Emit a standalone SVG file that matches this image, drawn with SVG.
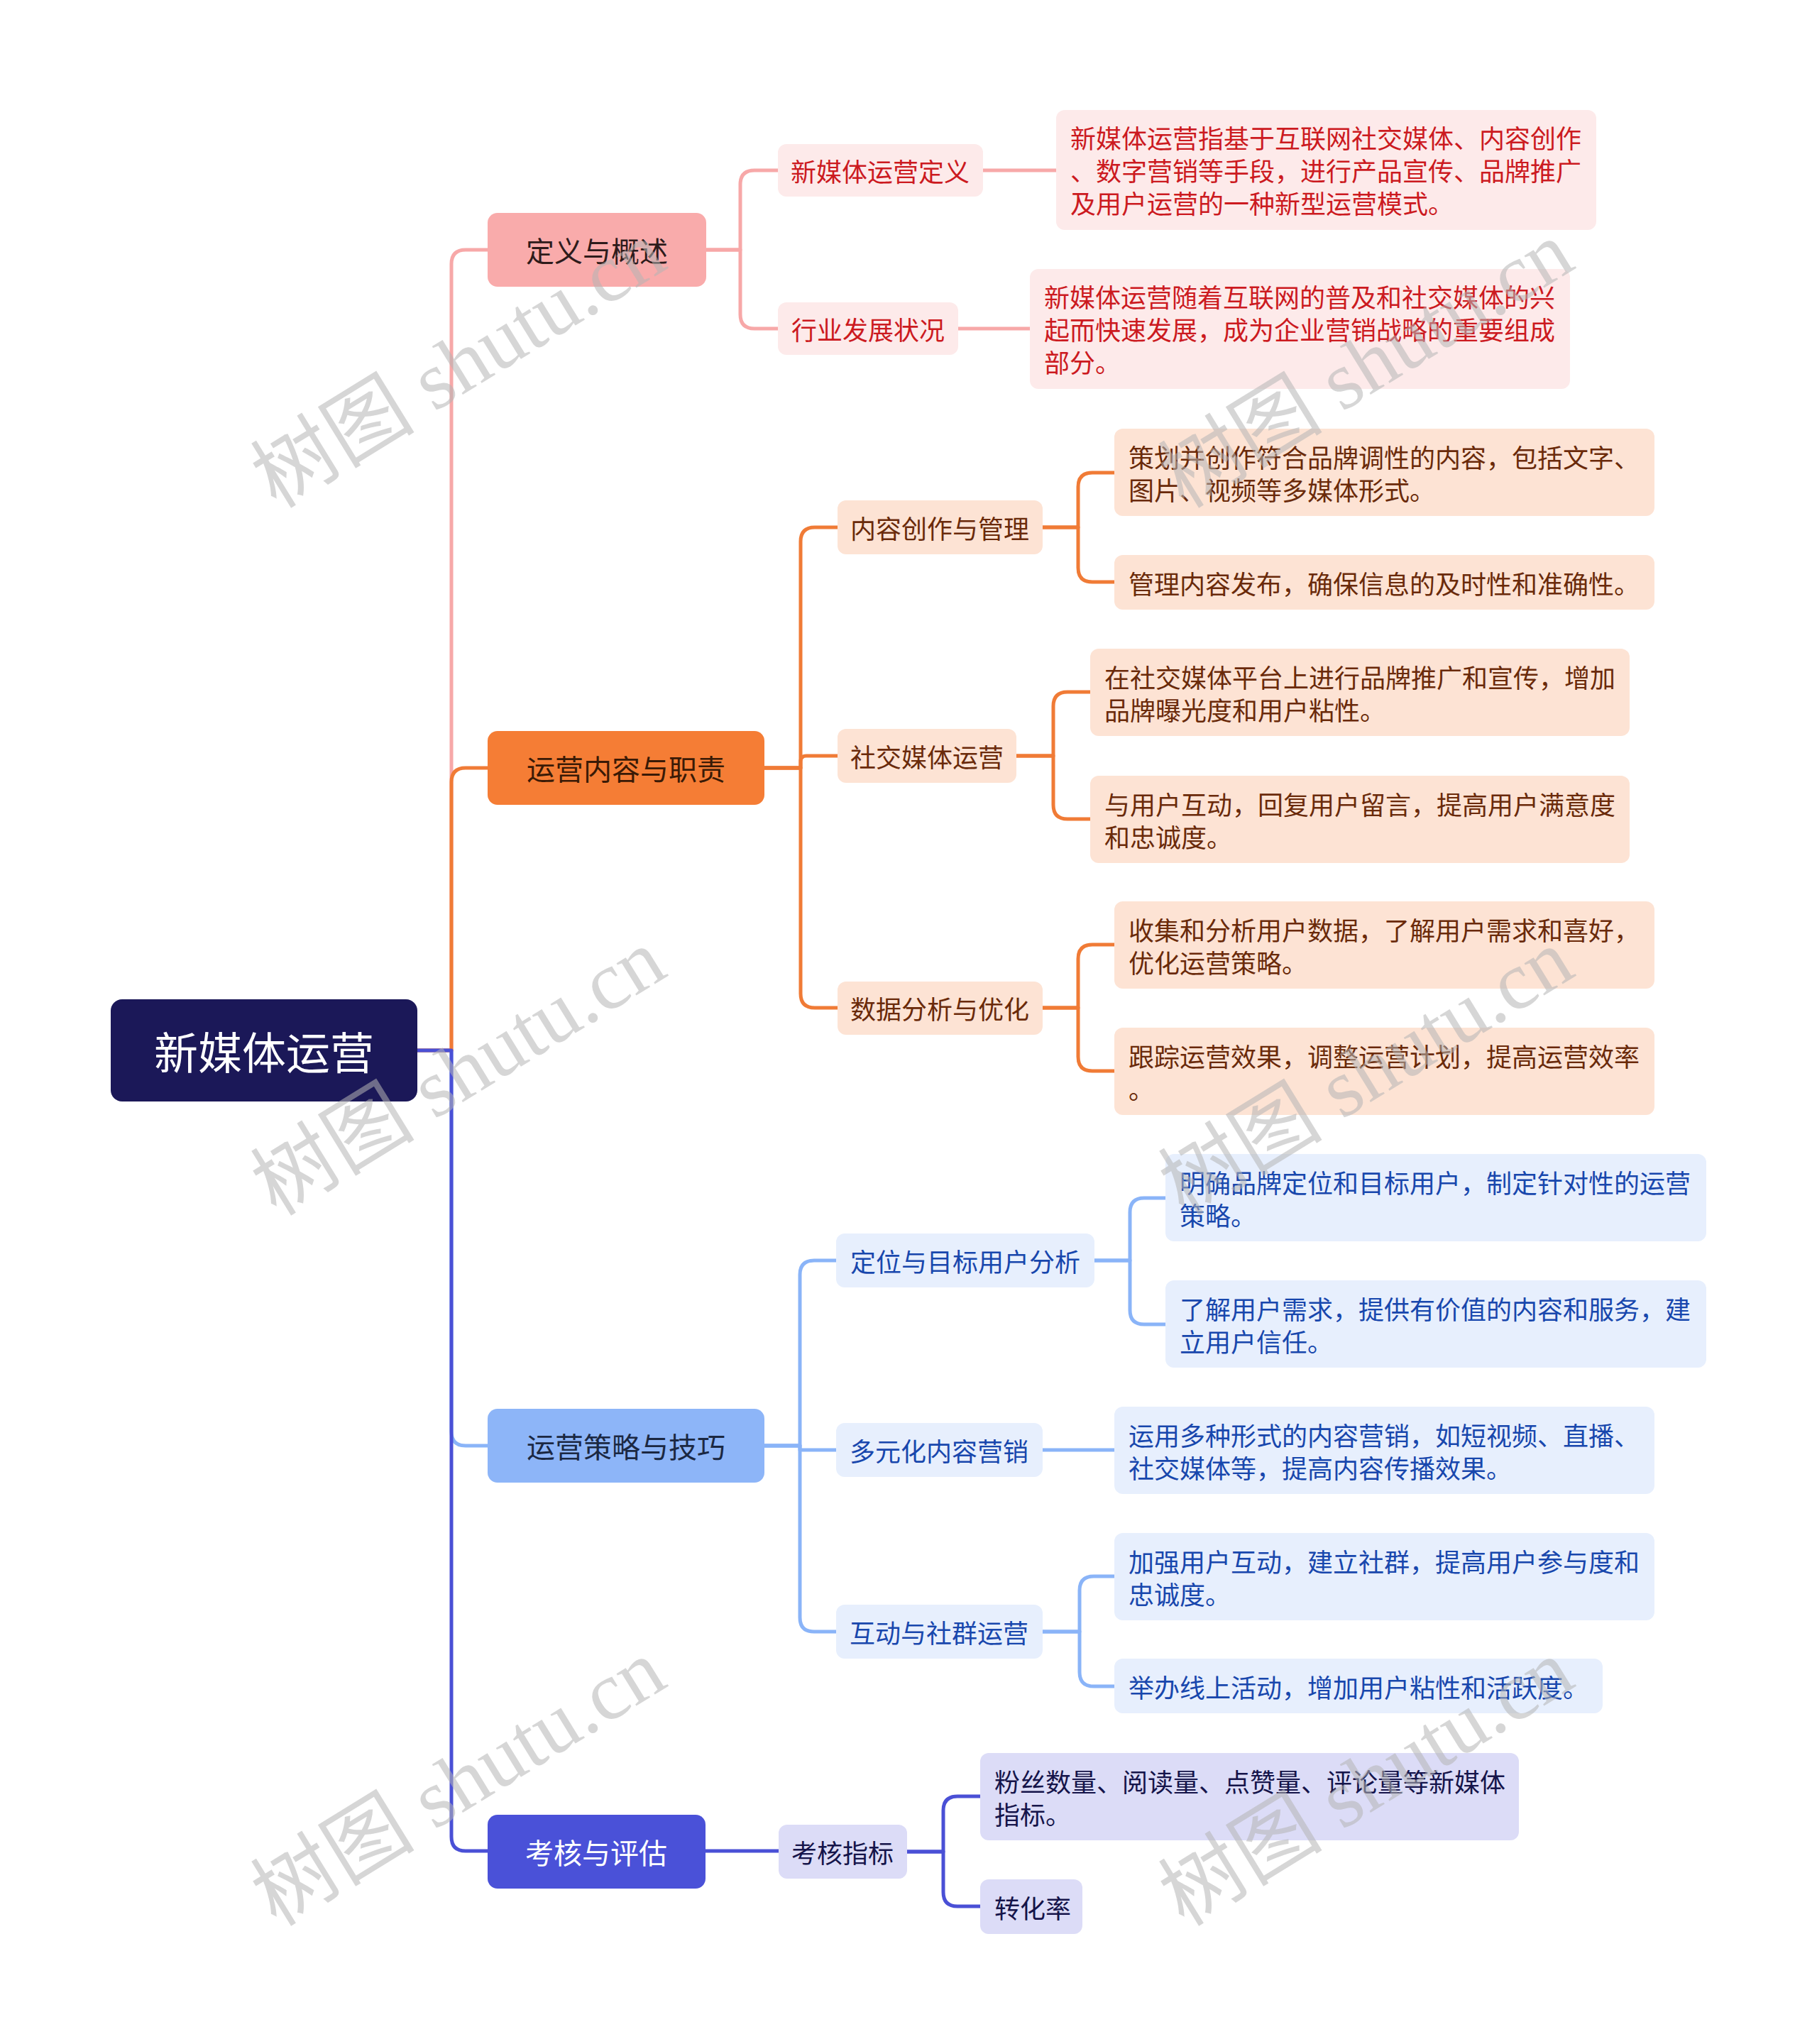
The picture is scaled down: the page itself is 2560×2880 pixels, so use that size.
<svg xmlns="http://www.w3.org/2000/svg" width="2560" height="2880" viewBox="0 0 2560 2880">
<style>
text{font-family:"Noto Sans CJK SC","Noto Sans",sans-serif;}
.c{fill:none;stroke-width:5;stroke-linejoin:round}
.pk{stroke:#f7a8a8}.or{stroke:#f07b36}.lb{stroke:#8ab4f8}.vi{stroke:#4a50d6}
.t1{font-size:40px;text-anchor:middle;dominant-baseline:central}
.t2{font-size:36px;text-anchor:middle;dominant-baseline:central}
.t3{font-size:36px;dominant-baseline:central}
.red{fill:#cc1a1f}.brn{fill:#6a2a0a}.blu{fill:#1847ad}.nav{fill:#15144a}
.wm{font-family:"Liberation Serif","Noto Sans CJK SC",serif;font-size:116px;fill:#b4b4b4;fill-opacity:0.55;text-anchor:middle;dominant-baseline:central}
</style>
<rect width="2560" height="2880" fill="#ffffff"/>
<g id="connectors">
<path class="c pk" d="M588,1480 H636 V372 Q636,352 656,352 H687"/>
<path class="c lb" d="M588,1480 H636 V2017 Q636,2037 656,2037 H687"/>
<path class="c or" d="M588,1480 H636 V1102 Q636,1082 656,1082 H687"/>
<path class="c vi" d="M588,1480 H636 V2588 Q636,2608 656,2608 H687"/>
<path class="c pk" d="M995,352 H1043 V260 Q1043,240 1063,240 H1096"/>
<path class="c pk" d="M995,352 H1043 V443 Q1043,463 1063,463 H1096"/>
<path class="c pk" d="M1385,240 H1488"/>
<path class="c pk" d="M1350,463 H1451"/>
<path class="c or" d="M1077,1082 H1128 V763 Q1128,743 1148,743 H1180"/>
<path class="c or" d="M1077,1082 H1128 V1073 Q1128,1065 1136,1065 H1180"/>
<path class="c or" d="M1077,1082 H1128 V1400 Q1128,1420 1148,1420 H1180"/>
<path class="c or" d="M1469,743 H1519 V686 Q1519,666 1539,666 H1570"/>
<path class="c or" d="M1469,743 H1519 V800 Q1519,820 1539,820 H1570"/>
<path class="c or" d="M1432,1065 H1484 V995 Q1484,975 1504,975 H1536"/>
<path class="c or" d="M1432,1065 H1484 V1134 Q1484,1154 1504,1154 H1536"/>
<path class="c or" d="M1469,1420 H1519 V1351 Q1519,1331 1539,1331 H1570"/>
<path class="c or" d="M1469,1420 H1519 V1489 Q1519,1509 1539,1509 H1570"/>
<path class="c lb" d="M1077,2037 H1127 V1796 Q1127,1776 1147,1776 H1178"/>
<path class="c lb" d="M1077,2037 H1127 V2043 H1178"/>
<path class="c lb" d="M1077,2037 H1127 V2279 Q1127,2299 1147,2299 H1178"/>
<path class="c lb" d="M1542,1776 H1592 V1708 Q1592,1688 1612,1688 H1642"/>
<path class="c lb" d="M1542,1776 H1592 V1846 Q1592,1866 1612,1866 H1642"/>
<path class="c lb" d="M1469,2043 H1570"/>
<path class="c lb" d="M1469,2299 H1521 V2241 Q1521,2221 1541,2221 H1570"/>
<path class="c lb" d="M1469,2299 H1521 V2356 Q1521,2376 1541,2376 H1570"/>
<path class="c vi" d="M994,2608 H1097"/>
<path class="c vi" d="M1278,2609 H1329 V2551 Q1329,2531 1349,2531 H1381"/>
<path class="c vi" d="M1278,2609 H1329 V2666 Q1329,2686 1349,2686 H1381"/>
</g>
<g id="root"><rect x="156" y="1408" width="432" height="144" rx="16" fill="#1b1858"/><text x="372" y="1480" style="font-size:62px;text-anchor:middle;dominant-baseline:central" fill="#ffffff">新媒体运营</text></g>
<g id="n-def"><rect x="687" y="300" width="308" height="104" rx="14" fill="#f9abab"/><text class="t1" x="841" y="352" fill="#2e1b1b">定义与概述</text></g>
<g id="n-def1"><rect x="1096" y="203" width="289" height="74" rx="12" fill="#fdeaea"/><text class="t2 red" x="1240" y="240">新媒体运营定义</text></g>
<g id="n-def2"><rect x="1096" y="426" width="254" height="74" rx="12" fill="#fdeaea"/><text class="t2 red" x="1223" y="463">行业发展状况</text></g>
<g id="n-def1a"><rect x="1488" y="155" width="761" height="169" rx="12" fill="#fdeaea"/><text class="t3 red" x="1508" y="193">新媒体运营指基于互联网社交媒体、内容创作</text><text class="t3 red" x="1508" y="239">、数字营销等手段，进行产品宣传、品牌推广</text><text class="t3 red" x="1508" y="285">及用户运营的一种新型运营模式。</text></g>
<g id="n-def2a"><rect x="1451" y="379" width="761" height="169" rx="12" fill="#fdeaea"/><text class="t3 red" x="1471" y="417">新媒体运营随着互联网的普及和社交媒体的兴</text><text class="t3 red" x="1471" y="463">起而快速发展，成为企业营销战略的重要组成</text><text class="t3 red" x="1471" y="509">部分。</text></g>
<g id="n-ops"><rect x="687" y="1030" width="390" height="104" rx="14" fill="#f57d35"/><text class="t1" x="882" y="1082" fill="#3a1a06">运营内容与职责</text></g>
<g id="n-ops1"><rect x="1180" y="705" width="289" height="76" rx="12" fill="#fde3d4"/><text class="t2 brn" x="1324" y="743">内容创作与管理</text></g>
<g id="n-ops2"><rect x="1180" y="1027" width="252" height="76" rx="12" fill="#fde3d4"/><text class="t2 brn" x="1306" y="1065">社交媒体运营</text></g>
<g id="n-ops3"><rect x="1180" y="1383" width="289" height="75" rx="12" fill="#fde3d4"/><text class="t2 brn" x="1324" y="1420">数据分析与优化</text></g>
<g id="n-ops1a"><rect x="1570" y="604" width="761" height="123" rx="12" fill="#fde3d4"/><text class="t3 brn" x="1590" y="643">策划并创作符合品牌调性的内容，包括文字、</text><text class="t3 brn" x="1590" y="689">图片、视频等多媒体形式。</text></g>
<g id="n-ops1b"><rect x="1570" y="782" width="761" height="77" rx="12" fill="#fde3d4"/><text class="t3 brn" x="1590" y="821">管理内容发布，确保信息的及时性和准确性。</text></g>
<g id="n-ops2a"><rect x="1536" y="914" width="760" height="123" rx="12" fill="#fde3d4"/><text class="t3 brn" x="1556" y="953">在社交媒体平台上进行品牌推广和宣传，增加</text><text class="t3 brn" x="1556" y="999">品牌曝光度和用户粘性。</text></g>
<g id="n-ops2b"><rect x="1536" y="1093" width="760" height="123" rx="12" fill="#fde3d4"/><text class="t3 brn" x="1556" y="1132">与用户互动，回复用户留言，提高用户满意度</text><text class="t3 brn" x="1556" y="1178">和忠诚度。</text></g>
<g id="n-ops3a"><rect x="1570" y="1270" width="761" height="123" rx="12" fill="#fde3d4"/><text class="t3 brn" x="1590" y="1309">收集和分析用户数据，了解用户需求和喜好，</text><text class="t3 brn" x="1590" y="1355">优化运营策略。</text></g>
<g id="n-ops3b"><rect x="1570" y="1448" width="761" height="123" rx="12" fill="#fde3d4"/><text class="t3 brn" x="1590" y="1487">跟踪运营效果，调整运营计划，提高运营效率</text><text class="t3 brn" x="1590" y="1533">。</text></g>
<g id="n-str"><rect x="687" y="1985" width="390" height="104" rx="14" fill="#8db5f8"/><text class="t1" x="882" y="2037" fill="#1b2842">运营策略与技巧</text></g>
<g id="n-str1"><rect x="1178" y="1738" width="364" height="76" rx="12" fill="#e7effd"/><text class="t2 blu" x="1360" y="1776">定位与目标用户分析</text></g>
<g id="n-str2"><rect x="1178" y="2005" width="291" height="76" rx="12" fill="#e7effd"/><text class="t2 blu" x="1323" y="2043">多元化内容营销</text></g>
<g id="n-str3"><rect x="1178" y="2261" width="291" height="76" rx="12" fill="#e7effd"/><text class="t2 blu" x="1323" y="2299">互动与社群运营</text></g>
<g id="n-str1a"><rect x="1642" y="1626" width="762" height="123" rx="12" fill="#e7effd"/><text class="t3 blu" x="1662" y="1665">明确品牌定位和目标用户，制定针对性的运营</text><text class="t3 blu" x="1662" y="1711">策略。</text></g>
<g id="n-str1b"><rect x="1642" y="1804" width="762" height="123" rx="12" fill="#e7effd"/><text class="t3 blu" x="1662" y="1843">了解用户需求，提供有价值的内容和服务，建</text><text class="t3 blu" x="1662" y="1889">立用户信任。</text></g>
<g id="n-str2a"><rect x="1570" y="1982" width="761" height="123" rx="12" fill="#e7effd"/><text class="t3 blu" x="1590" y="2021">运用多种形式的内容营销，如短视频、直播、</text><text class="t3 blu" x="1590" y="2067">社交媒体等，提高内容传播效果。</text></g>
<g id="n-str3a"><rect x="1570" y="2160" width="761" height="123" rx="12" fill="#e7effd"/><text class="t3 blu" x="1590" y="2199">加强用户互动，建立社群，提高用户参与度和</text><text class="t3 blu" x="1590" y="2245">忠诚度。</text></g>
<g id="n-str3b"><rect x="1570" y="2337" width="688" height="77" rx="12" fill="#e7effd"/><text class="t3 blu" x="1590" y="2376">举办线上活动，增加用户粘性和活跃度。</text></g>
<g id="n-eva"><rect x="687" y="2557" width="307" height="104" rx="14" fill="#4a51d8"/><text class="t1" x="840" y="2609" fill="#ffffff">考核与评估</text></g>
<g id="n-eva1"><rect x="1097" y="2571" width="181" height="76" rx="12" fill="#dcdcf7"/><text class="t2 nav" x="1187" y="2609">考核指标</text></g>
<g id="n-eva1a"><rect x="1381" y="2470" width="759" height="123" rx="12" fill="#dcdcf7"/><text class="t3 nav" x="1401" y="2509">粉丝数量、阅读量、点赞量、评论量等新媒体</text><text class="t3 nav" x="1401" y="2555">指标。</text></g>
<g id="n-eva1b"><rect x="1381" y="2648" width="144" height="77" rx="12" fill="#dcdcf7"/><text class="t3 nav" x="1401" y="2687">转化率</text></g>
<g id="watermarks">
<text class="wm" transform="translate(646,514) rotate(-31.6)">树图 shutu.cn</text>
<text class="wm" transform="translate(646,1511) rotate(-31.6)">树图 shutu.cn</text>
<text class="wm" transform="translate(646,2512) rotate(-31.6)">树图 shutu.cn</text>
<text class="wm" transform="translate(1925,514) rotate(-31.6)">树图 shutu.cn</text>
<text class="wm" transform="translate(1925,1511) rotate(-31.6)">树图 shutu.cn</text>
<text class="wm" transform="translate(1925,2512) rotate(-31.6)">树图 shutu.cn</text>
</g>
</svg>
